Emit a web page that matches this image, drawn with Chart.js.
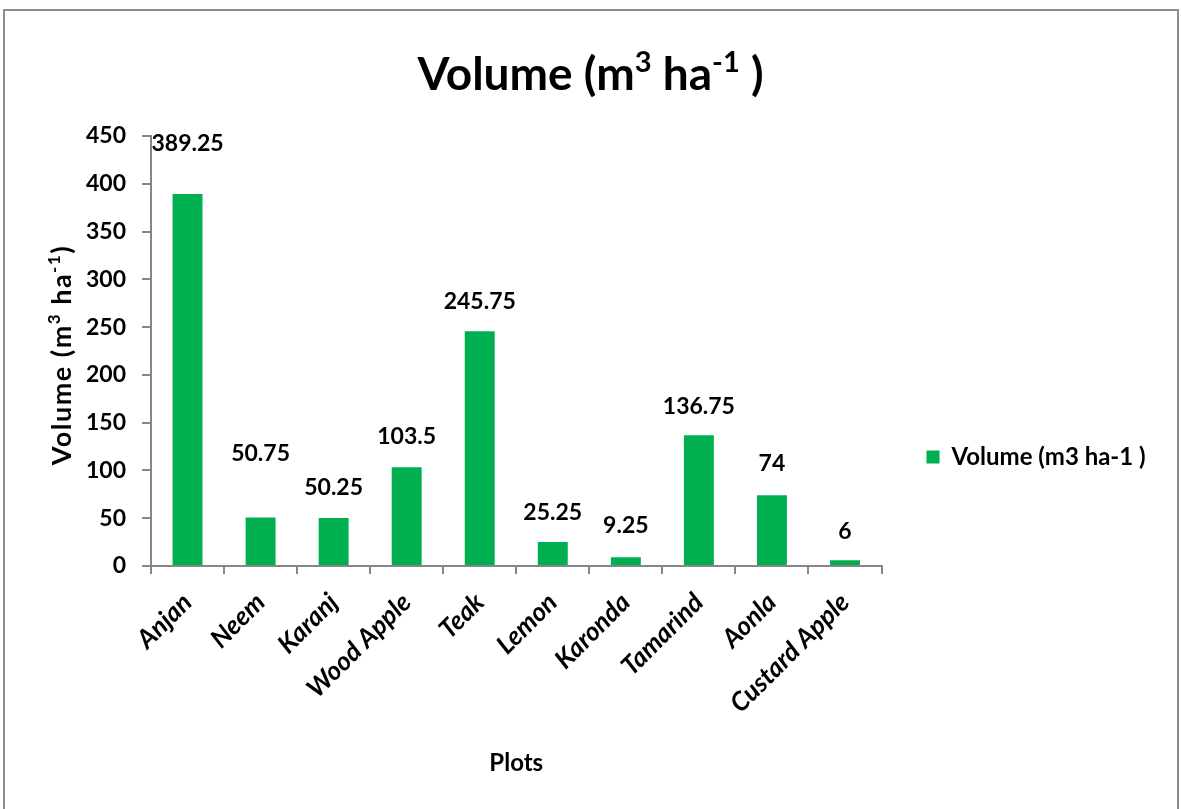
<!DOCTYPE html>
<html>
<head>
<meta charset="utf-8">
<title>Volume by plot</title>
<script src="https://cdn.jsdelivr.net/npm/chart.js@4"></script>
<style>
    html, body { margin: 0; padding: 0; background: #fff; overflow: hidden; }
    #frame {
        position: absolute; left: 3px; top: 9px; width: 1172px; height: 820px;
        border: 2px solid #8c8c8c; pointer-events: none;
    }
    #chart { position: absolute; left: 0; top: 0; }
</style>
</head>
<body>
<canvas id="chart" width="1181" height="809"></canvas>
<div id="frame"></div>
<script>
// plot names and stand volume per plot
const plots = ['Anjan', 'Neem', 'Karanj', 'Wood Apple', 'Teak', 'Lemon', 'Karonda', 'Tamarind', 'Aonla', 'Custard Apple'];
const volumes = [389.25, 50.75, 50.25, 103.5, 245.75, 25.25, 9.25, 136.75, 74, 6];
const yMin = 0;
const yMax = 450;
const yStep = 50;

const FONT = 'Lato';
const GREEN = '#00b050';
const AXIS = '#868686';

// how far above each bar its value label sits (a couple were nudged up by hand)
const labelLift = [50, 64, 30, 31, 30, 29, 32, 29, 32, 29];

// draws text with superscript pieces, centred on (x, y)
function drawRich(ctx, parts, x, y, size, angle, spacing) {
    ctx.save();
    ctx.translate(x, y);
    ctx.rotate(angle || 0);
    ctx.letterSpacing = (spacing || 0) + 'px';
    ctx.textBaseline = 'alphabetic';
    ctx.fillStyle = '#000';
    const supSize = Math.round(size * 0.62);
    let total = 0;
    parts.forEach(p => {
        ctx.font = 'bold ' + (p.sup ? supSize : size) + 'px ' + FONT;
        p.w = ctx.measureText(p.t).width;
        total += p.w;
    });
    let cx = -total / 2;
    const base = size * 0.36;
    parts.forEach(p => {
        ctx.font = 'bold ' + (p.sup ? supSize : size) + 'px ' + FONT;
        ctx.textAlign = 'left';
        ctx.fillText(p.t, cx, p.sup ? base - size * 0.38 : base);
        cx += p.w;
    });
    ctx.restore();
}

const extraText = {
    id: 'extraText',
    afterDatasetsDraw(chart) {
        const ctx = chart.ctx;
        // value labels above bars
        const meta = chart.getDatasetMeta(0);
        ctx.save();
        ctx.font = 'bold 23px ' + FONT;
        ctx.fillStyle = '#000';
        ctx.textAlign = 'center';
        ctx.textBaseline = 'middle';
        meta.data.forEach((bar, i) => {
            ctx.fillText(String(volumes[i]), bar.x, bar.y - labelLift[i]);
        });
        ctx.restore();
    },
    afterDraw(chart) {
        const ctx = chart.ctx;
        const area = chart.chartArea;
        drawRich(ctx, [
            { t: 'Volume (m' }, { t: '3', sup: true }, { t: ' ha' }, { t: '-1', sup: true }, { t: ' )' }
        ], chart.width / 2, 73, 46, 0, 0);
        drawRich(ctx, [
            { t: 'Volume (m' }, { t: '3', sup: true }, { t: ' ha' }, { t: '-1', sup: true }, { t: ')' }
        ], 61, (area.top + area.bottom) / 2 + 4, 27, -Math.PI / 2, 1.5);
    }
};

const ctx = document.getElementById('chart').getContext('2d');
new Chart(ctx, {
    type: 'bar',
    data: {
        labels: plots,
        datasets: [{
            label: 'Volume (m3 ha-1 )',
            data: volumes,
            backgroundColor: GREEN,
            borderWidth: 0,
            barPercentage: 0.41,
            categoryPercentage: 1
        }]
    },
    options: {
        responsive: false,
        animation: false,
        layout: { padding: { top: 136, left: 70, right: 29, bottom: 31 } },
        plugins: {
            title: { display: false },
            tooltip: { enabled: false },
            legend: {
                position: 'right',
                labels: {
                    color: '#000',
                    boxWidth: 13,
                    boxHeight: 13,
                    padding: 45,
                    font: { family: FONT, size: 24, weight: 'bold' }
                }
            }
        },
        scales: {
            x: {
                grid: {
                    offset: true,
                    drawOnChartArea: false,
                    color: AXIS,
                    lineWidth: 2,
                    tickLength: 8
                },
                border: { display: true, color: AXIS, width: 2 },
                ticks: {
                    color: '#000',
                    minRotation: 45,
                    maxRotation: 45,
                    padding: 13,
                    font: { family: FONT, size: 26, weight: 'bold', style: 'italic' }
                },
                title: {
                    display: true,
                    text: 'Plots',
                    color: '#000',
                    padding: { top: 17, bottom: 0 },
                    font: { family: FONT, size: 24, weight: 'bold' }
                }
            },
            y: {
                min: yMin,
                max: yMax,
                grid: {
                    drawOnChartArea: false,
                    color: AXIS,
                    lineWidth: 2,
                    tickLength: 9
                },
                border: { display: true, color: AXIS, width: 2 },
                ticks: {
                    stepSize: yStep,
                    color: '#000',
                    padding: 16,
                    font: { family: FONT, size: 23, weight: 'bold' }
                }
            }
        }
    },
    plugins: [extraText]
});
</script>
</body>
</html>
